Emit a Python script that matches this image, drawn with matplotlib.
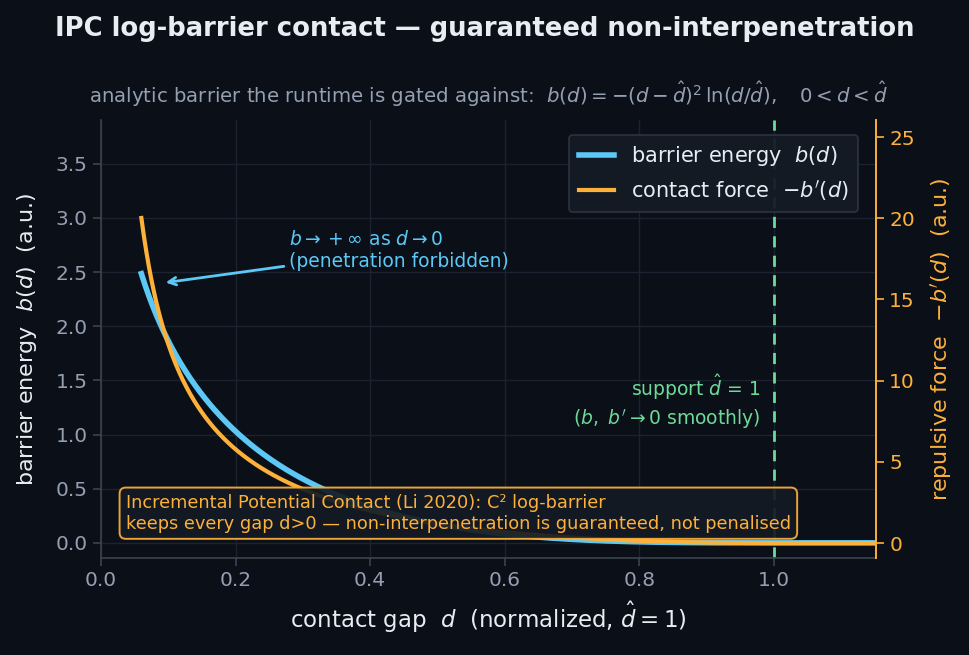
import numpy as np
import matplotlib
matplotlib.use("Agg")
import matplotlib.pyplot as plt

# ---- data ----
d_hat = 1.0
gap = np.linspace(0.06, 1.15, 600)          # contact gap d (normalised)
inside = (gap > 0) & (gap < d_hat)
energy = np.where(inside, -(gap - d_hat) ** 2 * np.log(np.clip(gap, 1e-9, None) / d_hat), 0.0)
force = np.where(inside, 2 * (gap - d_hat) * np.log(np.clip(gap, 1e-9, None) / d_hat)
                 + (gap - d_hat) ** 2 / np.clip(gap, 1e-9, None), 0.0)

left_ticks = [0.0, 0.5, 1.0, 1.5, 2.0, 2.5, 3.0, 3.5]
right_ticks = [0, 5, 10, 15, 20, 25]
x_ticks = [0.0, 0.2, 0.4, 0.6, 0.8, 1.0]

BG = "#0b0f17"
FG = "#e6edf3"
MUTED = "#94a0b2"
BLUE = "#5cc8f5"
ORANGE = "#fdb03a"
GREEN = "#6ddb97"
GRID = "#1c2330"

plt.rcParams["font.family"] = ["DejaVu Sans"]
plt.rcParams["mathtext.fontset"] = "dejavusans"

fig = plt.figure(figsize=(9.7, 6.55), dpi=100, facecolor=BG)
ax = fig.add_axes([101 / 970, 1 - 558 / 655, 775 / 970, 438 / 655])
ax.set_facecolor(BG)
ax2 = ax.twinx()

l1, = ax.plot(gap, energy, color=BLUE, lw=4.0, label=r"barrier energy  $b(d)$", zorder=3)
l2, = ax2.plot(gap, force, color=ORANGE, lw=3.0, label=r"contact force  $-b'(d)$", zorder=4)
ax.axvline(d_hat, color=GREEN, ls=(0, (4, 3)), lw=2.0, zorder=2)

ax.set_xlim(0, 1.152)
ax.set_ylim(-0.14, 3.905)
ax2.set_ylim(-0.92, 26.05)
ax.set_xticks(x_ticks)
ax.set_yticks(left_ticks)
ax2.set_yticks(right_ticks)

ax.grid(True, color=GRID, lw=1.0)
ax.set_axisbelow(True)
for s in ["top", "right"]:
    ax.spines[s].set_visible(False)
ax.spines["left"].set_color("#3a4350")
ax.spines["bottom"].set_color("#3a4350")
ax.spines["left"].set_linewidth(1.2)
ax.spines["bottom"].set_linewidth(1.2)
ax2.spines["top"].set_visible(False)
ax2.spines["left"].set_visible(False)
ax2.spines["bottom"].set_visible(False)
ax2.spines["right"].set_color(ORANGE)
ax2.spines["right"].set_linewidth(1.4)

ax.tick_params(axis="both", colors="#3a4350", labelcolor=MUTED, labelsize=14.5,
               length=6, width=1.2)
ax2.tick_params(axis="y", colors=ORANGE, labelcolor=ORANGE, labelsize=14.5,
                length=6, width=1.2)

ax.set_xlabel(r"contact gap  $d$  (normalized, $\hat{d}=1$)", color=FG, fontsize=16.5, labelpad=7)
ax.set_ylabel(r"barrier energy  $b(d)$  (a.u.)", color=FG, fontsize=16, labelpad=12)
ax2.set_ylabel(r"repulsive force  $-b'(d)$  (a.u.)", color=ORANGE, fontsize=16, labelpad=10)

fig.suptitle("IPC log-barrier contact — guaranteed non-interpenetration",
             color=FG, fontsize=18.6, fontweight="bold", y=0.975)
ax.set_title(r"analytic barrier the runtime is gated against:  $b(d) = -(d-\hat{d})^2\,\ln(d/\hat{d}),\quad 0<d<\hat{d}$",
             color=MUTED, fontsize=14.2, pad=12)

ax.annotate(r"$b \to +\infty$ as $d \to 0$" + "\n(penetration forbidden)",
            xy=(0.092, 2.40), xytext=(0.28, 2.70), color=BLUE, fontsize=13.5,
            va="center", ha="left",
            arrowprops=dict(arrowstyle="->", color=BLUE, lw=2.0), zorder=6)

ax.text(0.98, 1.305, r"support $\hat{d}$ = 1" + "\n" + r"($b,\ b'\to 0$ smoothly)",
        color=GREEN, fontsize=13.5, ha="right", va="center", linespacing=1.25, zorder=6)

ax2.text(0.032, 0.058,
         "Incremental Potential Contact (Li 2020): C² log-barrier\n"
         "keeps every gap d>0 — non-interpenetration is guaranteed, not penalised",
         transform=ax.transAxes, color=ORANGE, fontsize=12.8, ha="left", va="bottom",
         zorder=7,
         bbox=dict(boxstyle="round,pad=0.35", facecolor="#131a24", edgecolor=ORANGE,
                   alpha=0.92, lw=1.4))

leg = ax2.legend(handles=[l1, l2], loc="upper right", fontsize=15, frameon=True,
                 facecolor="#141b25", edgecolor="#2a3340", labelcolor=FG,
                 borderpad=0.45, handlelength=1.7, labelspacing=0.45,
                 bbox_to_anchor=(0.99, 0.99))
leg.get_frame().set_alpha(0.95)
leg.get_frame().set_linewidth(1.3)

fig.savefig("out.png", dpi=100, facecolor=BG)
